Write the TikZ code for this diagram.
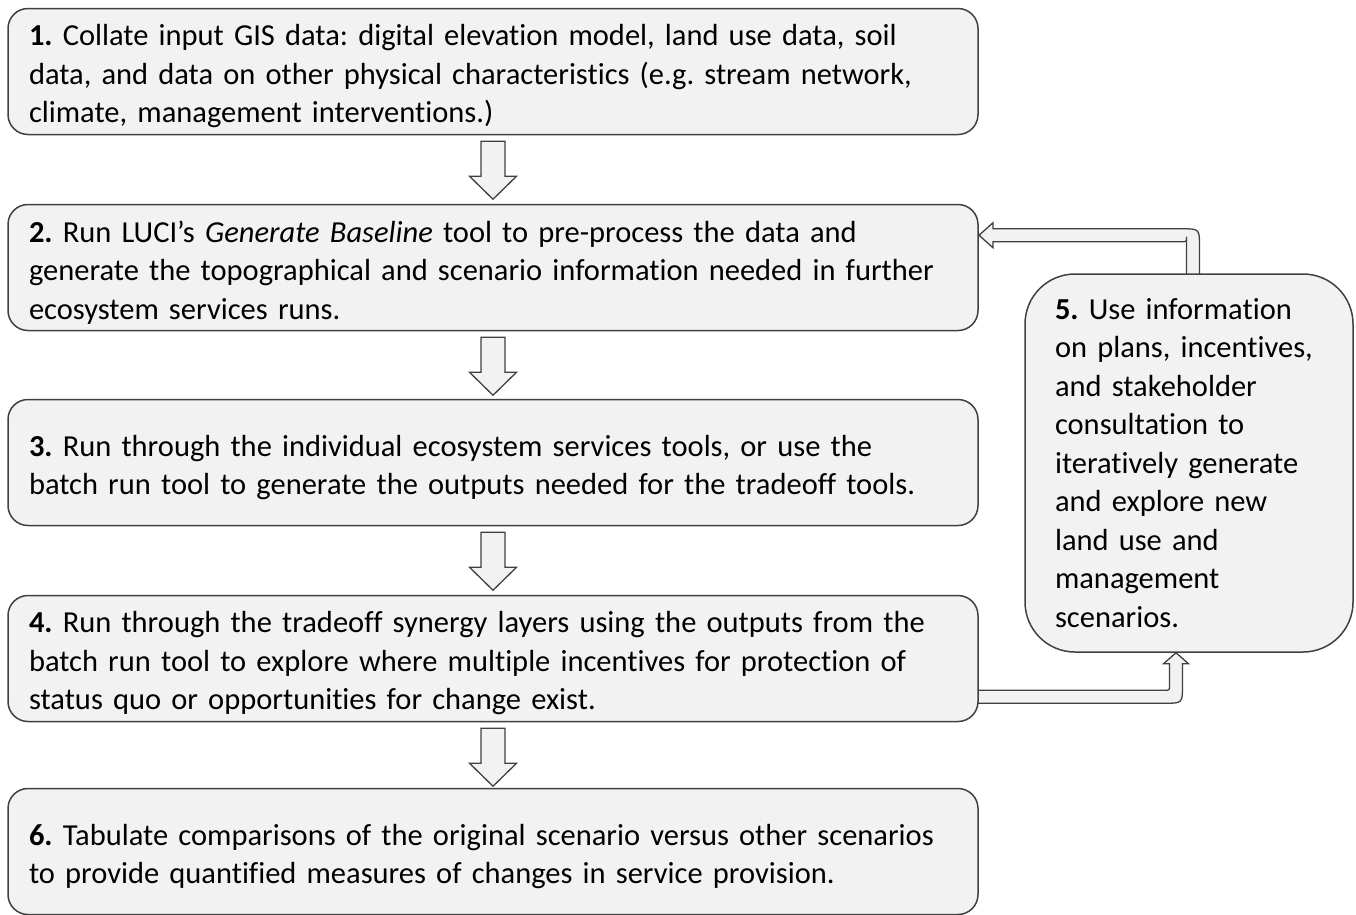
\documentclass[tikz,border=0pt]{standalone}
\usepackage{fontspec}
\setmainfont{Carlito}[Ligatures=NoCommon]
\usetikzlibrary{calc}
\definecolor{boxfill}{HTML}{F2F2F2}
\definecolor{boxline}{HTML}{404040}
\newcommand\firstlinestrut{\rule{0pt}{31pt}}
\tikzset{
  basebox/.style={draw=boxline, fill=boxfill, line width=1.5pt, align=left,
    inner sep=0pt, font=\fontsize{30.5}{38.5}\selectfont\frenchspacing},
  stepbox/.style={basebox, rounded corners=20pt,
    minimum width=970pt, minimum height=126pt, text width=928pt},
  sidebox/.style={basebox, rounded corners=50pt, minimum width=328pt, minimum height=378pt, text width=268pt},
  blockarrow/.style={draw=boxline, fill=boxfill, line width=1.3pt, line join=miter}
}
\newcommand\blockdownarrow[1]{%
  \draw[blockarrow, shift={(#1.south)}] (-12,6) -- (-12,41) -- (-23.5,41) -- (0,64) -- (23.5,41) -- (12,41) -- (12,6) -- cycle;}
\begin{document}
\begin{tikzpicture}[x=1pt,y=-1pt]
\useasboundingbox (0,0) rectangle (1356,914);
% placeholder so the arrows can be drawn under the boxes
\node[sidebox, draw=none, fill=none] (p5) at (1189,463) {};
\draw[blockarrow, shift={(p5.north)}]
  (-2.5,2) -- (-2.5,-36.5) .. controls (-2.5,-31.5) .. (-7.5,-31.5) -- (-196,-31.5) -- (-196,-25.5)
  -- (-210,-38) -- (-196,-50.5) -- (-196,-44.5) -- (-7.5,-44.5) .. controls (10.5,-44.5) .. (10.5,-26.5) -- (10.5,2);
\draw[blockarrow, shift={(p5.south)}]
  (-213,37.5) -- (-24.5,37.5) .. controls (-19.5,37.5) .. (-19.5,32.5) -- (-19.5,11) -- (-25.5,11)
  -- (-13,0) -- (-0.5,11) -- (-6.5,11) -- (-6.5,32.5) .. controls (-6.5,50.5) .. (-24.5,50.5) -- (-213,50.5);
% boxes
\node[stepbox] (b1) at (493,71.5) {\firstlinestrut\textbf{1.} Collate input GIS data: digital elevation model, land use data, soil\\data, and data on other physical characteristics (e.g. stream network,\\climate, management interventions.)};
\node[stepbox] (b2) at (493,267.5) {\firstlinestrut\textbf{2.} Run LUCI’s \textit{Generate Baseline} tool to pre-process the data and\\generate the topographical and scenario information needed in further\\ecosystem services runs.};
\node[stepbox] (b3) at (493,462.5) {\firstlinestrut\textbf{3.} Run through the individual ecosystem services tools, or use the\\batch run tool to generate the outputs needed for the tradeoff tools.};
\node[stepbox] (b4) at (493,658.5) {\firstlinestrut\textbf{4.} Run through the tradeoff synergy layers using the outputs from the\\batch run tool to explore where multiple incentives for protection of\\status quo or opportunities for change exist.};
\node[stepbox] (b6) at (493,851.5) {\firstlinestrut\textbf{6.} Tabulate comparisons of the original scenario versus other scenarios\\to provide quantified measures of changes in service provision.};
\node[sidebox] (b5) at (1189,463) {\textbf{5.} Use information\\on plans, incentives,\\and stakeholder\\consultation to\\iteratively generate\\and explore new\\land use and\\management\\scenarios.};
\blockdownarrow{b1}
\blockdownarrow{b2}
\blockdownarrow{b3}
\blockdownarrow{b4}
\end{tikzpicture}
\end{document}
